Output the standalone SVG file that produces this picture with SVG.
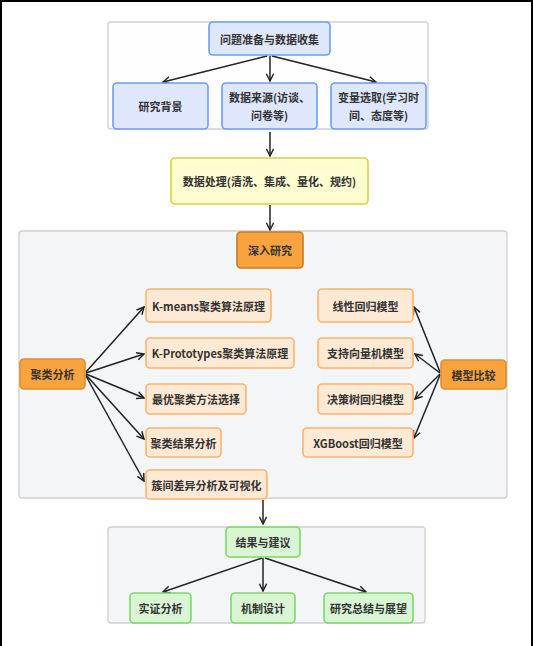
<svg xmlns="http://www.w3.org/2000/svg" width="533" height="646" viewBox="0 0 533 646">
<defs>
<marker id="arr" viewBox="0 0 10 10" refX="9" refY="5" markerWidth="9" markerHeight="9" markerUnits="userSpaceOnUse" orient="auto">
<path d="M1,1 L9,5 L1,9" fill="none" stroke="#222" stroke-width="1.6"/>
</marker>
<style>
.cl{stroke:#cfcfd3;stroke-width:1.3}
.n rect{rx:4;ry:4;stroke-width:1.6}
.blue rect{fill:#dfe7fc;stroke:#6d9cf6}
.yel rect{fill:#fdfdd0;stroke:#d8d047}
.org rect{fill:#f9a33e;stroke:#dc8e30}
.pch rect{fill:#fee9d4;stroke:#fbb36b}
.grn rect{fill:#d9f5d3;stroke:#7dd86c}
text{font-family:"Noto Sans CJK SC","Noto Sans",sans-serif;font-size:11px;font-weight:bold;fill:#333;text-anchor:middle;dominant-baseline:central}
.e path{fill:none;stroke:#222;stroke-width:1.5;marker-end:url(#arr)}
</style>
</defs>
<rect width="533" height="646" fill="#fff"/>
<path d="M1,646 V1 H532 V646" fill="none" stroke="#000" stroke-width="2"/>

<g id="clusters">
<rect class="cl" x="108" y="22" width="320" height="107" rx="3" fill="#fefefe"/>
<rect class="cl" x="19" y="231" width="488" height="267" rx="3" fill="#f4f5f7"/>
<rect class="cl" x="108" y="527" width="317" height="96" rx="3" fill="#f4f5f7"/>
</g>

<g id="edges" class="e">
<path d="M267,56 L163,82"/>
<path d="M270,56 L270,81"/>
<path d="M272,56 L376,82"/>
<path d="M270,132 L270,156"/>
<path d="M270,205 L270,230"/>
<path d="M86,372 L144,307"/>
<path d="M86,373 L144,354"/>
<path d="M86,374 L144,398"/>
<path d="M86,375 L144,439"/>
<path d="M86,376 L144,481"/>
<path d="M440,372 L414,307"/>
<path d="M440,373 L415,354"/>
<path d="M440,374 L415,399"/>
<path d="M440,375 L414,438"/>
<path d="M263,500 L263,524"/>
<path d="M262,558 L163,592"/>
<path d="M263,558 L263,591"/>
<path d="M265,558 L366,592"/>
</g>

<g id="n_prep" class="n blue"><rect x="209" y="22" width="121" height="33"/><text x="269.5" y="38.5">问题准备与数据收集</text></g>
<g id="n_bg" class="n blue"><rect x="113" y="83" width="95" height="46"/><text x="160.5" y="106">研究背景</text></g>
<g id="n_src" class="n blue"><rect x="222" y="83" width="95" height="46"/><text x="269.5" y="97">数据来源(访谈、</text><text x="269.5" y="115">问卷等)</text></g>
<g id="n_var" class="n blue"><rect x="331" y="83" width="95" height="46"/><text x="378.5" y="97">变量选取(学习时</text><text x="378.5" y="115">间、态度等)</text></g>

<g id="n_proc" class="n yel"><rect x="171" y="158" width="197" height="46"/><text x="269.5" y="181">数据处理(清洗、集成、量化、规约)</text></g>

<g id="n_deep" class="n org"><rect x="237" y="232" width="66" height="36" style="stroke:#c47b26"/><text x="270" y="250">深入研究</text></g>
<g id="n_clu" class="n org"><rect x="20" y="359" width="65" height="30"/><text x="52.5" y="374">聚类分析</text></g>
<g id="n_cmp" class="n org"><rect x="441" y="360" width="65" height="29"/><text x="473.5" y="374.5">模型比较</text></g>

<g id="n_km" class="n pch"><rect x="146" y="289" width="125" height="33"/><text x="208.5" y="305.5">K-means聚类算法原理</text></g>
<g id="n_kp" class="n pch"><rect x="146" y="338" width="148" height="30"/><text x="220" y="353">K-Prototypes聚类算法原理</text></g>
<g id="n_best" class="n pch"><rect x="146" y="384" width="100" height="30"/><text x="196" y="399">最优聚类方法选择</text></g>
<g id="n_res" class="n pch"><rect x="146" y="428" width="75" height="29"/><text x="183.5" y="442.5">聚类结果分析</text></g>
<g id="n_diff" class="n pch"><rect x="146" y="470" width="121" height="29"/><text x="206.5" y="484.5">簇间差异分析及可视化</text></g>

<g id="n_lin" class="n pch"><rect x="318" y="289" width="95" height="33"/><text x="365.5" y="305.5">线性回归模型</text></g>
<g id="n_svm" class="n pch"><rect x="318" y="338" width="95" height="30"/><text x="365.5" y="353">支持向量机模型</text></g>
<g id="n_dt" class="n pch"><rect x="318" y="384" width="95" height="30"/><text x="365.5" y="399">决策树回归模型</text></g>
<g id="n_xgb" class="n pch"><rect x="303" y="428" width="110" height="29"/><text x="358" y="442.5">XGBoost回归模型</text></g>

<g id="n_out" class="n grn"><rect x="226" y="527" width="74" height="30"/><text x="263" y="542">结果与建议</text></g>
<g id="n_emp" class="n grn"><rect x="130" y="593" width="61" height="30"/><text x="160.5" y="608">实证分析</text></g>
<g id="n_mech" class="n grn"><rect x="231" y="593" width="64" height="30"/><text x="263" y="608">机制设计</text></g>
<g id="n_sum" class="n grn"><rect x="324" y="593" width="89" height="30"/><text x="368.5" y="608">研究总结与展望</text></g>
</svg>
